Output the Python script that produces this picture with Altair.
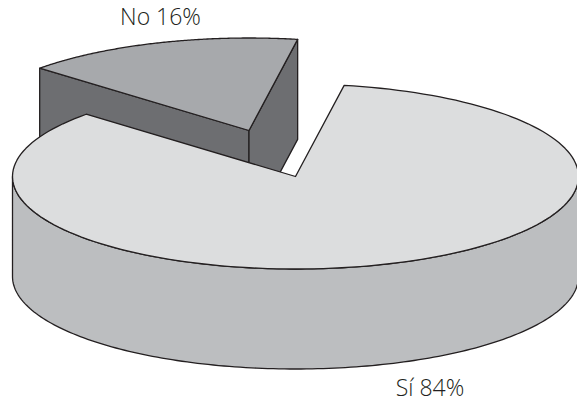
import math
import altair as alt
import pandas as pd

# Survey shares drawn as an extruded pie
categories = ["Sí", "No"]
values = [84, 16]

# Pie layout in canvas units
CENTER = (295.5, 176.5)
RX, RY = 283.0, 92.5
DEPTH = 100.0
START_DEG = 137.7        # the "Sí" slice starts here and runs clockwise
EXPLODE = (-46.5, -46.0) # shift of the pulled-out "No" slice
LABELS = {"Sí": (430, 396), "No": (160.5, 25)}

X_SCALE = alt.Scale(domain=[0, 577], nice=False, zero=False)
Y_SCALE = alt.Scale(domain=[404, 0], nice=False, zero=False)
OUTLINE = "#231f20"


def rim(deg, cx, cy, drop=0.0):
    t = math.radians(deg)
    return (cx + RX * math.cos(t), cy - RY * math.sin(t) + drop)


def arc(a0, a1, cx, cy, drop=0.0, steps=160):
    return [rim(a0 + (a1 - a0) * k / steps, cx, cy, drop) for k in range(steps + 1)]


def polygon(points, fill):
    frame = pd.DataFrame(points, columns=["x", "y"]).assign(i=range(len(points)))
    return (
        alt.Chart(frame)
        .mark_line(
            fill=fill,
            stroke=OUTLINE,
            strokeWidth=1.3,
            strokeJoin="round",
            interpolate="linear-closed",
        )
        .encode(
            x=alt.X("x:Q", scale=X_SCALE, axis=None),
            y=alt.Y("y:Q", scale=Y_SCALE, axis=None),
            order="i:Q",
        )
    )


total = sum(values)
si_span = 360.0 * values[0] / total
no_span = 360.0 * values[1] / total

# Angles of both slices, measured counter-clockwise on the ellipse
si_from, si_to = START_DEG, START_DEG + si_span
no_from, no_to = START_DEG - no_span, START_DEG

# Pulled-out slice: apex, rim ends and its two cut faces
nx, ny = CENTER[0] + EXPLODE[0], CENTER[1] + EXPLODE[1]
no_a = rim(no_from, nx, ny)
no_b = rim(no_to, nx, ny)
no_left_face = [no_b, (nx, ny), (nx, ny + DEPTH), (no_b[0], no_b[1] + DEPTH)]
no_right_face = [(nx, ny), no_a, (no_a[0], no_a[1] + DEPTH), (nx, ny + DEPTH)]
no_top = [(nx, ny)] + arc(no_from, no_to, nx, ny)

# Main slice: outer wall along the front half, then the top face
wall = arc(180, 360, *CENTER) + arc(360, 180, *CENTER, drop=DEPTH)
si_top = [CENTER] + arc(si_from, si_to, *CENTER)

label_frame = pd.DataFrame(
    {
        "text": [f"{c} {v}%" for c, v in zip(categories, values)],
        "x": [LABELS[c][0] for c in categories],
        "y": [LABELS[c][1] for c in categories],
    }
)
labels = (
    alt.Chart(label_frame)
    .mark_text(font="Open Sans", fontSize=23, fontWeight=300, color="#231f20", align="center", baseline="alphabetic")
    .encode(
        x=alt.X("x:Q", scale=X_SCALE, axis=None),
        y=alt.Y("y:Q", scale=Y_SCALE, axis=None),
        text="text:N",
    )
)

chart = (
    alt.layer(
        polygon(no_left_face, "#6d6e71"),
        polygon(no_right_face, "#6d6e71"),
        polygon(no_top, "#a7a9ac"),
        polygon(wall, "#bcbec0"),
        polygon(si_top, "#dcddde"),
        labels,
    )
    .properties(width=577, height=404, padding=0, autosize=alt.AutoSizeParams(type="none"), background="white")
    .configure_view(stroke=None)
)

chart.save("out.html", embed_options={"renderer": "svg", "actions": False})
